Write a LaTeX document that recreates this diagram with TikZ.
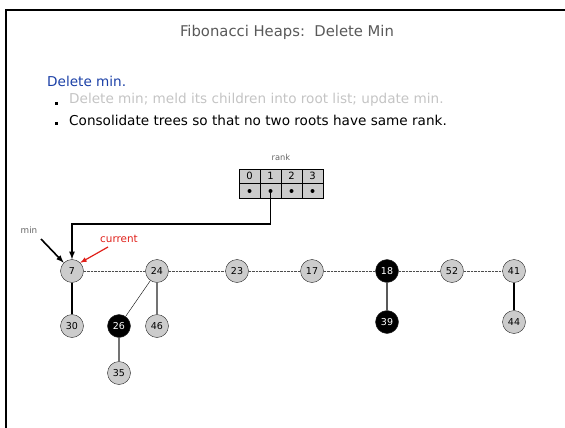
\documentclass[tikz,border=0pt]{standalone}
\usepackage{fontspec}
\setmainfont{DejaVu Sans}
\usepackage{tikz}
\usetikzlibrary{arrows}
\usetikzlibrary{positioning}
\definecolor{keygray}{HTML}{CCCCCC}
\definecolor{headblue}{HTML}{1A3FA6}
\definecolor{fadegray}{HTML}{C4C4C4}
\definecolor{curred}{HTML}{E0201A}

\begin{document}
\begin{tikzpicture}[x=1pt,y=-1pt,
  every node/.style={inner sep=0pt},
  key/.style={draw=black!85,circle,fill=keygray,minimum size=23pt,font=\fontsize{9.5}{10}\selectfont},
  blk/.style={key,fill=black,text=white},
  bul/.style={fill=black,minimum size=3pt}]
\useasboundingbox (0,0) rectangle (565,428);
% frame
\draw[line width=2pt](5,10)--(565,10);
\draw[line width=1.3pt](6,10)--(6,428);
\node[text=black!65,font=\fontsize{14.8}{16}\selectfont] (title) at (287,32) {Fibonacci Heaps:\ \ Delete Min};
\node[anchor=west,text=headblue,font=\fontsize{13.6}{15}\selectfont] (head) at (47,81) {Delete min.};
\node[bul] (b1) at (56.5,103) {};
\node[anchor=west,text=fadegray,font=\fontsize{13.6}{15}\selectfont] (t1) at (69,100) {Delete min; meld its children into root list; update min.};
\node[bul] (b2) at (56.5,123) {};
\node[anchor=west,font=\fontsize{13.6}{15}\selectfont] (t2) at (69,120) {Consolidate trees so that no two roots have same rank.};
% rank array
\node[text=black!60,font=\fontsize{8.3}{9}\selectfont] (rank) at (281,157) {rank};
\foreach \i in {0,1,2,3}{
  \draw[fill=keygray](239+21*\i,169) rectangle (260+21*\i,183);
  \draw[fill=keygray](239+21*\i,183) rectangle (260+21*\i,198);
  \node[font=\fontsize{10}{11}\selectfont] (r\i) at (249.5+21*\i,176) {\i};
  \node[circle,fill=black,minimum size=4pt] (p\i) at (249.5+21*\i,191) {};
}
% roots
\node[key] (7) at (72,271) {7};
\node[key] (24) at (157,271) {24};
\node[key] (23) at (237,271) {23};
\node[key] (17) at (312,271) {17};
\node[blk] (18) at (387,271) {18};
\node[key] (52) at (452,271) {52};
\node[key] (41) at (514,271) {41};
% children
\node[key] (30) at (72,326) {30};
\node[blk] (26) at (119,326) {26};
\node[key] (46) at (157,326) {46};
\node[key] (35) at (119,373) {35};
\node[blk] (39) at (387,322) {39};
\node[key] (44) at (514,322) {44};
\draw[densely dotted,black!70](7)--(24)--(23)--(17)--(18)--(52)--(41);
\draw[line width=1.2pt](7)--(30);
\draw(24)--(26);
\draw[black!55,line width=1.8pt](24)--(46);
\draw[black!55,line width=1.8pt](26)--(35);
\draw[black!65,line width=1.3pt](18)--(39);
\draw[line width=1.2pt](41)--(44);
% pointers
\coordinate (bend1) at (270.5,224);
\coordinate (bend2) at (72,224);
\draw[line width=1.6pt,-latex](p1.center)--(bend1)--(bend2)--(7);
\node[text=black!60,font=\fontsize{8.8}{9}\selectfont] (min) at (29,230) {min};
\coordinate (mintail) at (41,239);
\draw[line width=1.6pt,-latex](mintail)--(7.north west);
\node[text=curred,font=\fontsize{10.4}{11}\selectfont] (cur) at (119,239) {current};
\coordinate (curtail) at (108,247);
\draw[line width=1.2pt,curred,-latex](curtail)--(7.north east);
\end{tikzpicture}
\end{document}
